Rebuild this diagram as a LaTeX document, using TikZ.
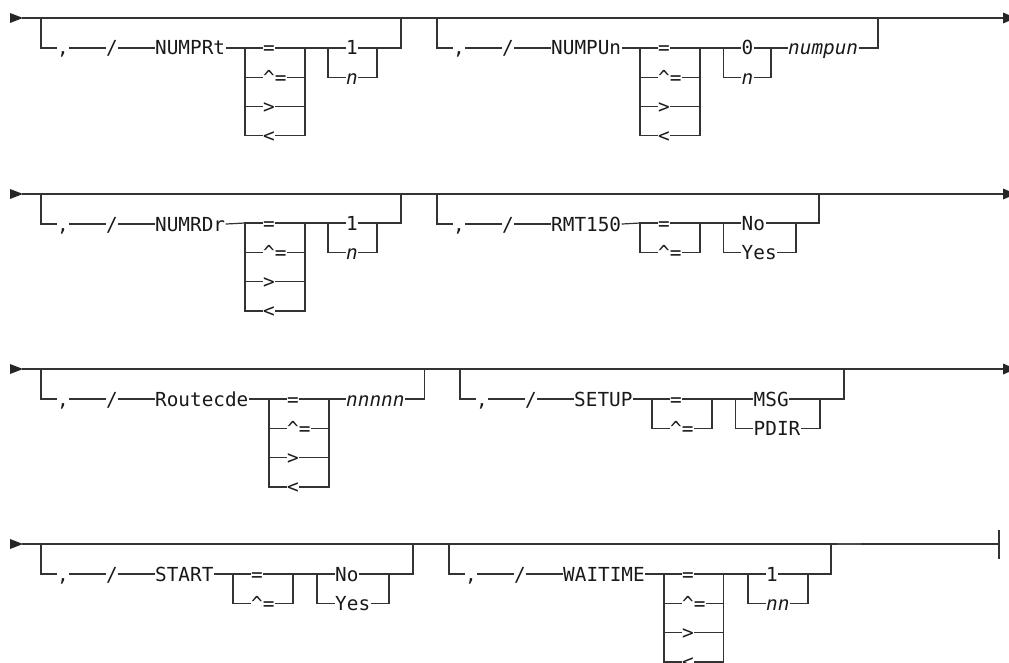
\documentclass[tikz,border=0pt]{standalone}
\usepackage{fontspec}
\setmonofont{DejaVu Sans Mono}
\usepackage{tikz}
\usetikzlibrary{calc}
\newcommand{\railfont}{\ttfamily\fontsize{19.35}{22}\selectfont}
\def\dy{29.3}
\tikzset{
  rail/.style={line width=1.2pt, draw=black!80, line cap=rect},
  tok/.style={anchor=west, inner xsep=1pt, inner ysep=0pt, text height=14pt, text depth=0pt, font=\railfont, text=black!90},
  var/.style={tok, font=\railfont\itshape},
  headtip/.style={fill=black!85}
}
% lead-in of one optional group: name, x of drop, y of main line, keyword
\newcommand{\railhead}[4]{%
  \node[tok] (#1c) at (#2+15,#3+30) {,};
  \node[tok] (#1s) at (#2+64,#3+30) {/};
  \node[tok] (#1k) at (#2+113,#3+30) {#4};
  \draw[rail] (#2,#3) |- (#1c.west);
  \draw[rail] (#1c.east) -- (#1s.west);
  \draw[rail] (#1s.east) -- (#1k.west);
}
% stack of choices: name, left x, right x, top y, items
\newcommand{\railchoice}[5]{%
  \foreach \itm [count=\k] in {#5} {
    \pgfmathsetmacro{\yy}{#4+(\k-1)*\dy}
    \node[tok] (#1\k) at (#2+17,\yy) {\itm};
    \draw[rail] (#2,\yy) -- (#1\k.west);
    \draw[rail] (#1\k.east) -- (#3,\yy);
    \xdef\lasty{\yy}
  }
  \draw[rail] (#2,#4) -- (#2,\lasty);
  \draw[rail] (#3,#4) -- (#3,\lasty);
}

\begin{document}
\begin{tikzpicture}[x=1pt,y=-1pt]
\useasboundingbox (0,0) rectangle (1009,663);
\clip (0,0) rectangle (1009,663);

% main lines
\foreach \m in {18,194,369,544} {
  \fill[headtip] (10,\m-5) -- (23,\m) -- (10,\m+5) -- cycle;
}
\foreach \m in {18,194,369} {
  \draw[rail] (23,\m) -- (1003,\m);
  \fill[headtip] (1003,\m-5.5) -- (1016,\m) -- (1003,\m+5.5) -- cycle;
}
\draw[rail] (23,544) -- (999,544);
\draw[rail] (999,531) -- (999,558);
\draw[line width=2pt, black!70] (837,544) -- (861,544);

% NUMPRt
\railhead{a}{41}{18}{NUMPRt}
\railchoice{ao}{245}{305}{48}{=,\textasciicircum=,>,<}
\railchoice{av}{328}{377}{48}{1,\itshape n}
\draw[rail] (ak.east) -- (245,48);
\draw[rail] (305,48) -- (328,48);
\draw[rail] (377,48) -| (401,18);

% NUMPUn
\railhead{b}{437}{18}{NUMPUn}
\railchoice{bo}{640}{700}{48}{=,\textasciicircum=,>,<}
\railchoice{bv}{723.5}{771}{48}{0,\itshape n}
\node[var] (bn) at (787,48) {numpun};
\draw[rail] (bk.east) -- (640,48);
\draw[rail] (700,48) -- (723.5,48);
\draw[rail] (771,48) -- (bn.west);
\draw[rail] (bn.east) -| (878,18);

% NUMRDr
\railhead{c}{41}{194}{NUMRDr}
\railchoice{co}{245}{305}{223}{=,\textasciicircum=,>,<}
\railchoice{cv}{328}{377}{223}{1,\itshape n}
\draw[rail] (ck.east) -- (245,223);
\draw[rail] (305,223) -- (328,223);
\draw[rail] (377,223) -| (401,194);

% RMT150
\railhead{d}{437}{194}{RMT150}
\railchoice{do}{640}{700}{223}{=,\textasciicircum=}
\railchoice{dv}{723.5}{796}{223}{No,Yes}
\draw[rail] (dk.east) -- (640,223);
\draw[rail] (700,223) -- (723.5,223);
\draw[rail] (796,223) -| (819,194);

% Routecde
\railhead{e}{41}{369}{Routecde}
\railchoice{eo}{269}{329}{399}{=,\textasciicircum=,>,<}
\node[var] (en) at (345,399) {nnnnn};
\draw[rail] (ek.east) -- (269,399);
\draw[rail] (329,399) -- (en.west);
\draw[rail] (en.east) -| (424.5,369);

% SETUP
\railhead{f}{460}{369}{SETUP}
\railchoice{fo}{652}{712}{399}{=,\textasciicircum=}
\railchoice{fv}{735.5}{820}{399}{MSG,PDIR}
\draw[rail] (fk.east) -- (652,399);
\draw[rail] (712,399) -- (735.5,399);
\draw[rail] (820,399) -| (844,369);

% START
\railhead{g}{41}{544}{START}
\railchoice{go}{233}{293}{574}{=,\textasciicircum=}
\railchoice{gv}{317}{389}{574}{No,Yes}
\draw[rail] (gk.east) -- (233,574);
\draw[rail] (293,574) -- (317,574);
\draw[rail] (389,574) -| (413,544);

% WAITIME
\railhead{h}{449}{544}{WAITIME}
\railchoice{ho}{664}{723.5}{574}{=,\textasciicircum=,>,<}
\railchoice{hv}{748}{808}{574}{1,\itshape nn}
\draw[rail] (hk.east) -- (664,574);
\draw[rail] (723.5,574) -- (748,574);
\draw[rail] (808,574) -| (831,544);
\end{tikzpicture}
\end{document}
